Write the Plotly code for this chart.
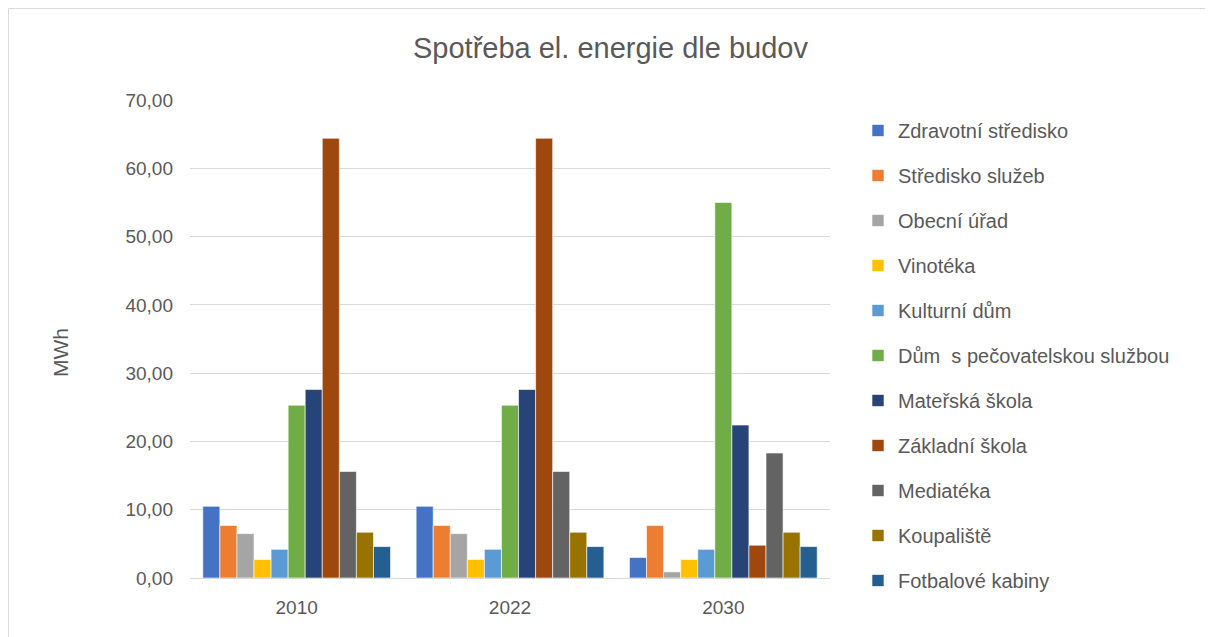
import plotly.graph_objects as go

years = ["2010", "2022", "2030"]
series_names = [
    "Zdravotní středisko", "Středisko služeb", "Obecní úřad", "Vinotéka",
    "Kulturní dům", "Dům  s pečovatelskou službou", "Mateřská škola",
    "Základní škola", "Mediatéka", "Koupaliště", "Fotbalové kabiny",
]
zdravotni = [10.5, 10.5, 3.0]
stredisko = [7.7, 7.7, 7.7]
obecni = [6.5, 6.5, 0.9]
vinoteka = [2.7, 2.7, 2.7]
kulturni = [4.2, 4.2, 4.2]
dps = [25.3, 25.3, 55.0]
materska = [27.6, 27.6, 22.4]
zakladni = [64.4, 64.4, 4.8]
mediateka = [15.6, 15.6, 18.3]
koupaliste = [6.7, 6.7, 6.7]
fotbal = [4.6, 4.6, 4.6]
values = [zdravotni, stredisko, obecni, vinoteka, kulturni, dps, materska,
          zakladni, mediateka, koupaliste, fotbal]
colors = ["#4472C4", "#ED7D31", "#A5A5A5", "#FFC000", "#5B9BD5", "#70AD47",
          "#264478", "#9E480E", "#636363", "#997300", "#255E91"]

FONT = "Liberation Sans"
TXT = "#595959"
fig = go.Figure()
for i, (name, vals, col) in enumerate(zip(series_names, values, colors)):
    fig.add_trace(go.Bar(
        x=years, y=vals, name=name, marker_color=col,
        marker_line=dict(color="white", width=0.6),
        legendgroup=f"g{i}",
    ))

# page body has an 8px margin; work in figure coordinates
W, H = 1205, 629
L, R, T, B = 182, 383, 92, 59
pw, ph = W - L - R, H - T - B

fig.update_layout(
    width=W, height=H,
    margin=dict(l=L, r=R, t=T, b=B),
    paper_bgcolor="white", plot_bgcolor="white",
    barmode="group", bargap=0.12, bargroupgap=0,
    separators=", ",
    font=dict(family=FONT, color=TXT, size=19),
    title=dict(text="Spotřeba el. energie dle budov", x=0.5, xanchor="center",
               y=1 - 40 / H, yanchor="middle",
               font=dict(family=FONT, size=29, color=TXT)),
    legend=dict(x=(850 - L) / pw, xanchor="left", y=(H - B - 103) / ph,
                yanchor="top", font=dict(family=FONT, size=20, color=TXT),
                tracegroupgap=16, traceorder="grouped", itemwidth=30,
                maxheight=900, bgcolor="rgba(0,0,0,0)"),
    showlegend=True,
    xaxis=dict(showgrid=False, showline=True, linecolor="#d9d9d9", linewidth=1,
               ticks="", ticklabelstandoff=12,
               tickfont=dict(size=19, color=TXT)),
    yaxis=dict(range=[0, 70], dtick=10, tickformat=".2f", showgrid=True,
               gridcolor="#d9d9d9", gridwidth=1, zeroline=False, ticks="",
               ticklabelstandoff=16, tickfont=dict(size=19, color=TXT)),
    annotations=[dict(text="MWh", textangle=-90, xref="paper", yref="paper",
                      x=(52 - L) / pw, y=(H - B - 345) / ph, xanchor="center",
                      yanchor="middle", showarrow=False,
                      font=dict(family=FONT, size=21, color=TXT))],
    shapes=[dict(type="rect", xref="paper", yref="paper",
                 x0=(0.5 - L) / pw, x1=(W + 20 - L) / pw,
                 y0=(H - B - H - 20) / ph, y1=(H - B - 0.5) / ph,
                 line=dict(color="#d9d9d9", width=1), layer="below")],
)

fig.write_html("out.html")
